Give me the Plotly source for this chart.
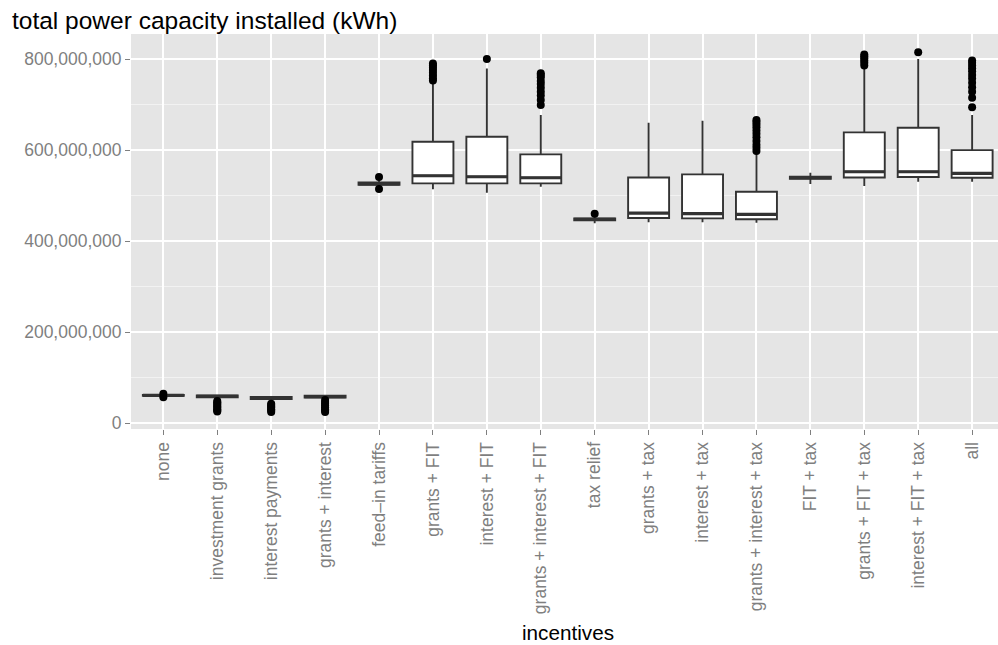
import plotly.graph_objects as go

categories = ["none", "investment grants", "interest payments", "grants + interest",
              "feed\u2013in tariffs", "grants + FIT", "interest + FIT", "grants + interest + FIT",
              "tax relief", "grants + tax", "interest + tax", "grants + interest + tax",
              "FIT + tax", "grants + FIT + tax", "interest + FIT + tax", "all"]

M = 1e6
q1_vals     = [60.3, 57.2, 53.5, 56.8, 524, 527, 527, 527, 446, 450.8, 450.1, 448, 537, 540, 540.8, 539.4]
median_vals = [61.3, 59.3, 55.5, 58.8, 526, 543.7, 541.5, 539.3, 448, 461.8, 460.3, 458.9, 539.4, 552.5, 552.5, 549]
q3_vals     = [62.5, 61.0, 57.8, 60.6, 529, 618.4, 629.4, 590.7, 450, 540, 546.8, 508.6, 541.5, 639, 649, 600]
lower_vals  = [59.0, 55.0, 51.0, 54.0, 520, 513.8, 506.4, 519.6, 439.5, 441.4, 441.4, 440.5, 525.5, 521, 530.5, 530.5]
upper_vals  = [63.5, 62.5, 59.5, 62.0, 533, 746.6, 779.5, 677, 454, 660, 664.5, 595, 550.4, 783, 800, 677]

outliers = {
    "none": [65.0, 57.5],
    "investment grants": [49, 46, 43, 40, 37, 34, 31, 28, 26],
    "interest payments": [43, 40, 37, 34, 31, 28, 25],
    "grants + interest": [51, 47, 43, 39, 35, 31, 28, 25],
    "feed\u2013in tariffs": [540.8, 514.5],
    "grants + FIT": [753, 758, 764, 770, 776, 781, 786, 790],
    "interest + FIT": [800],
    "grants + interest + FIT": [699, 710, 720, 728, 737, 745, 752, 760, 765, 769],
    "tax relief": [460],
    "grants + interest + tax": [598, 605, 612, 620, 628, 636, 643, 650, 656, 662, 666],
    "grants + FIT + tax": [786, 792, 797, 802, 806, 810],
    "interest + FIT + tax": [814.7],
    "all": [694, 715, 728, 738, 748, 757, 765, 773, 780, 786, 792, 797],
}

y_ticks = [0, 200e6, 400e6, 600e6, 800e6]

FONT = "Liberation Sans, Arial, Helvetica, sans-serif"
BOXW = 0.76
idx = list(range(len(categories)))

fig = go.Figure()

fig.add_trace(go.Box(
    x=idx,
    q1=[v * M for v in q1_vals],
    median=[v * M for v in median_vals],
    q3=[v * M for v in q3_vals],
    lowerfence=[v * M for v in lower_vals],
    upperfence=[v * M for v in upper_vals],
    width=BOXW,
    whiskerwidth=0,
    boxpoints=False,
    fillcolor="white",
    line=dict(color="#333333", width=1.9),
    showlegend=False,
    hoverinfo="skip",
))

# thicker median segments
mx, my = [], []
for i, m in zip(idx, median_vals):
    mx += [i - BOXW / 2, i + BOXW / 2, None]
    my += [m * M, m * M, None]
fig.add_trace(go.Scatter(x=mx, y=my, mode="lines",
                         line=dict(color="#333333", width=3.2),
                         showlegend=False, hoverinfo="skip"))

ox, oy = [], []
for i, c in enumerate(categories):
    for v in outliers.get(c, []):
        ox.append(i)
        oy.append(v * M)
fig.add_trace(go.Scatter(x=ox, y=oy, mode="markers",
                         marker=dict(color="black", size=8),
                         showlegend=False, hoverinfo="skip"))

fig.update_layout(
    width=998, height=645,
    margin=dict(l=131, r=0, t=34, b=216, pad=0),
    paper_bgcolor="white",
    plot_bgcolor="#E5E5E5",
    font=dict(family=FONT),
    title=dict(text="total power capacity installed (kWh)",
               font=dict(family=FONT, size=24.5, color="black"),
               xref="container", yref="container",
               x=12 / 998, xanchor="left",
               y=1 - 20 / 645, yanchor="middle"),
    xaxis=dict(
        range=[-0.6, 15.48],
        tickmode="array", tickvals=idx, ticktext=categories,
        tickangle=-90,
        showgrid=True, gridcolor="white", gridwidth=1.6,
        zeroline=False,
        ticks="outside", ticklen=5, tickwidth=1.2, tickcolor="#7F7F7F",
        tickfont=dict(family=FONT, size=17.5, color="#7F7F7F"),
        showline=False,
    ),
    yaxis=dict(
        range=[-12.5e6, 855e6],
        tickmode="array", tickvals=y_ticks,
        ticktext=[f"{int(v):,}" for v in y_ticks],
        showgrid=True, gridcolor="white", gridwidth=1.6,
        minor=dict(tickmode="array", tickvals=[100e6, 300e6, 500e6, 700e6],
                   showgrid=True, gridcolor="#F2F2F2", gridwidth=1.2, ticks=""),
        zeroline=False,
        ticks="outside", ticklen=5, tickwidth=1.2, tickcolor="#7F7F7F",
        tickfont=dict(family=FONT, size=17.5, color="#7F7F7F"),
        showline=False,
    ),
    annotations=[dict(text="incentives", x=7.5, xref="x",
                      y=-(632 - 429) / 395, yref="paper",
                      xanchor="center", yanchor="middle", showarrow=False,
                      font=dict(family=FONT, size=20.7, color="black"))],
)

fig.write_html("out.html")
